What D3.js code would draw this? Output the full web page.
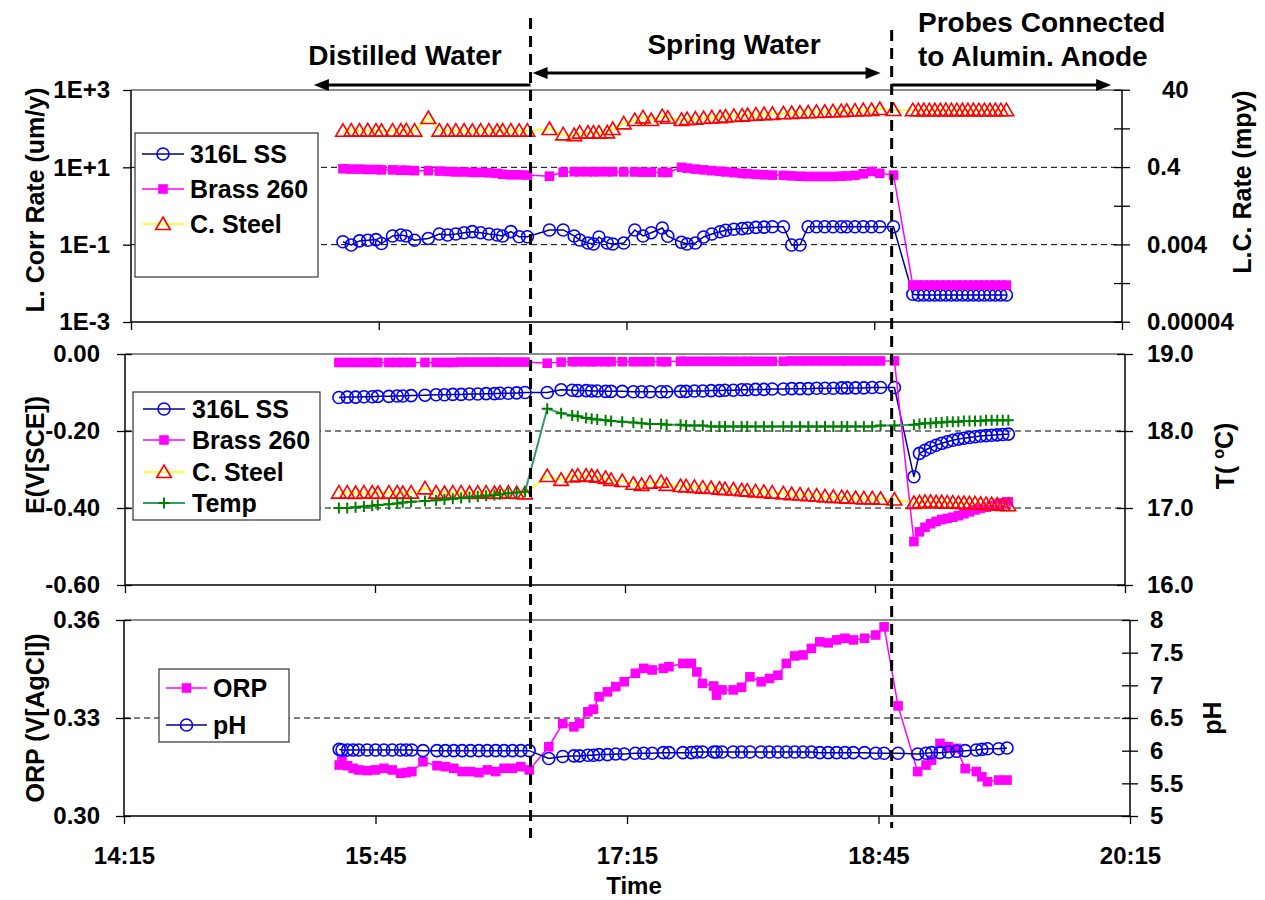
<!DOCTYPE html>
<html><head><meta charset="utf-8">
<script src="https://cdn.jsdelivr.net/npm/d3@7"></script>
<style>
body{margin:0;background:#fff}
svg{display:block}
text{font-family:"Liberation Sans",Arial,sans-serif;font-weight:bold;fill:#000}
</style>
</head><body>
<svg id="c" width="1265" height="900"></svg>
<script>
// ---------------- DATA ----------------
const timeTicks = ["14:15","15:45","17:15","18:45","20:15"];
const rateTicksLeft = [1e-3, 1e-1, 1e1, 1e3];
const rateLabelsLeft = ["1E-3","1E-1","1E+1","1E+3"];
const rateTicksRight = [0.00004, 0.0004, 0.004, 0.04, 0.4, 4, 40];
const rateLabelsRight = ["0.00004","","0.004","","0.4","","40"];
const eTicks = [-0.6, -0.4, -0.2, 0];
const eLabels = ["-0.60","-0.40","-0.20","0.00"];
const tempTicks = [16, 17, 18, 19];
const tempLabels = ["16.0","17.0","18.0","19.0"];
const orpTicks = [0.30, 0.33, 0.36];
const orpLabels = ["0.30","0.33","0.36"];
const phTicks = [5, 5.5, 6, 6.5, 7, 7.5, 8];
const phLabels = ["5","5.5","6","6.5","7","7.5","8"];

const phaseTimes = ["16:41", "18:51"];
const phaseNames = ["Distilled Water", "Spring Water", "Probes Connected", "to Alumin. Anode"];

// probe readings (corrosion rate + potential + temperature)
const probeTimes = [
 "15:32","15:35","15:38","15:41","15:44","15:46","15:50","15:53","15:55","15:58","16:03","16:07","16:10","16:13","16:16","16:19","16:22","16:25","16:28","16:30","16:33","16:36","16:39",
 "16:47","16:52","16:56","16:58","17:01","17:03","17:05","17:08","17:10","17:14","17:18","17:21","17:24","17:28","17:30","17:35","17:37","17:40","17:43","17:46","17:49","17:51","17:54","17:57","17:59","18:02","18:05","18:08","18:12","18:15","18:18","18:21","18:24","18:27","18:30","18:33","18:35","18:38","18:41","18:44","18:47","18:52",
 "18:59","19:01","19:03","19:05","19:07","19:09","19:11","19:13","19:15","19:17","19:19","19:21","19:23","19:25","19:27","19:29","19:31","19:33"];

const ssRate = [
 0.119,0.098,0.125,0.13,0.135,0.107,0.168,0.178,0.168,0.13,0.145,0.189,0.178,0.189,0.204,0.217,0.204,0.189,0.178,0.168,0.217,0.16,0.16,
 0.24,0.24,0.168,0.132,0.11,0.104,0.158,0.11,0.104,0.11,0.24,0.168,0.204,0.27,0.165,0.115,0.104,0.11,0.158,0.189,0.215,0.235,0.25,0.26,0.27,0.28,0.285,0.29,0.29,0.098,0.098,0.29,0.29,0.29,0.29,0.29,0.29,0.29,0.29,0.29,0.29,0.29,
 0.0052,0.005,0.005,0.005,0.005,0.005,0.005,0.005,0.005,0.005,0.005,0.005,0.005,0.005,0.005,0.005,0.005,0.005];
const brassRate = [
 9.2,9.0,9.0,8.8,8.8,8.6,8.6,8.4,8.4,8.2,8.2,8.0,7.8,7.6,7.6,7.4,7.4,7.2,7.0,6.6,6.4,6.4,6.3,
 5.9,7.5,7.7,7.7,7.7,7.7,7.7,7.7,7.7,7.6,7.6,7.5,7.5,7.4,7.4,10.0,9.5,9.0,8.6,8.2,7.9,7.6,7.3,7.0,6.8,6.6,6.4,6.3,6.2,6.0,5.9,5.8,5.8,5.8,5.8,5.9,6.0,6.2,6.8,7.8,7.0,6.3,
 0.009,0.009,0.009,0.009,0.009,0.009,0.009,0.009,0.009,0.009,0.009,0.009,0.009,0.009,0.009,0.009,0.009,0.009];
const steelRate = [
 88,89,89,90,89,88,89,89,90,89,189,89,88,89,89,88,89,89,88,89,89,88,89,
 98,71,68,79,79,79,79,80,98,137,167,196,167,212,192,168,176,181,188,195,199,206,213,217,226,230,238,242,250,254,261,265,271,274,281,284,291,294,301,304,323,304,
 300,300,301,300,299,300,301,300,300,299,300,301,300,300,299,300,300,300];
const ssE = [
 -0.113,-0.112,-0.112,-0.111,-0.111,-0.110,-0.110,-0.109,-0.109,-0.108,-0.107,-0.106,-0.106,-0.105,-0.105,-0.104,-0.104,-0.103,-0.103,-0.102,-0.102,-0.101,-0.100,
 -0.100,-0.093,-0.094,-0.095,-0.095,-0.096,-0.096,-0.097,-0.097,-0.097,-0.098,-0.098,-0.098,-0.098,-0.098,-0.097,-0.097,-0.096,-0.096,-0.095,-0.095,-0.094,-0.094,-0.093,-0.093,-0.092,-0.092,-0.091,-0.091,-0.090,-0.090,-0.090,-0.089,-0.089,-0.089,-0.088,-0.088,-0.088,-0.088,-0.087,-0.087,-0.087,
 -0.319,-0.258,-0.250,-0.243,-0.237,-0.232,-0.228,-0.224,-0.221,-0.219,-0.217,-0.215,-0.213,-0.212,-0.211,-0.210,-0.209,-0.208];
const brassE = [
 -0.022,-0.022,-0.022,-0.022,-0.022,-0.022,-0.022,-0.022,-0.022,-0.022,-0.022,-0.022,-0.022,-0.022,-0.021,-0.021,-0.021,-0.021,-0.021,-0.021,-0.021,-0.021,-0.021,
 -0.024,-0.021,-0.020,-0.020,-0.020,-0.020,-0.020,-0.020,-0.020,-0.020,-0.020,-0.020,-0.020,-0.020,-0.020,-0.019,-0.019,-0.019,-0.019,-0.019,-0.019,-0.019,-0.019,-0.019,-0.019,-0.019,-0.019,-0.019,-0.019,-0.018,-0.018,-0.018,-0.018,-0.018,-0.018,-0.018,-0.018,-0.018,-0.018,-0.018,-0.018,-0.018,
 -0.487,-0.462,-0.450,-0.441,-0.435,-0.430,-0.427,-0.424,-0.420,-0.415,-0.410,-0.405,-0.401,-0.398,-0.394,-0.390,-0.387,-0.384];
const steelE = [
 -0.360,-0.360,-0.361,-0.360,-0.360,-0.361,-0.360,-0.360,-0.361,-0.360,-0.349,-0.360,-0.361,-0.360,-0.360,-0.361,-0.360,-0.360,-0.361,-0.360,-0.360,-0.361,-0.362,
 -0.317,-0.327,-0.318,-0.316,-0.316,-0.317,-0.319,-0.322,-0.327,-0.330,-0.337,-0.340,-0.334,-0.332,-0.340,-0.343,-0.344,-0.345,-0.347,-0.348,-0.350,-0.351,-0.352,-0.354,-0.355,-0.357,-0.358,-0.360,-0.362,-0.364,-0.365,-0.367,-0.368,-0.370,-0.371,-0.372,-0.373,-0.374,-0.375,-0.375,-0.376,-0.378,
 -0.387,-0.385,-0.384,-0.384,-0.385,-0.385,-0.386,-0.386,-0.387,-0.387,-0.388,-0.388,-0.389,-0.390,-0.390,-0.391,-0.392,-0.393];
const tempC = [
 17.00,17.00,17.01,17.02,17.03,17.04,17.05,17.06,17.07,17.08,17.09,17.10,17.11,17.12,17.13,17.14,17.15,17.16,17.17,17.18,17.19,17.20,17.21,
 18.29,18.23,18.20,18.19,18.17,18.16,18.15,18.14,18.13,18.12,18.11,18.10,18.09,18.09,18.08,18.08,18.07,18.07,18.07,18.06,18.06,18.06,18.06,18.06,18.06,18.06,18.06,18.06,18.06,18.06,18.06,18.06,18.06,18.06,18.06,18.06,18.06,18.06,18.06,18.06,18.07,18.07,
 18.08,18.09,18.10,18.10,18.11,18.11,18.12,18.12,18.12,18.13,18.13,18.13,18.13,18.14,18.14,18.14,18.14,18.14];

// water readings (ORP + pH)
const waterTimes = [
 "15:32","15:33","15:35","15:37","15:39","15:42","15:45","15:48","15:51","15:54","15:56","15:58","16:02","16:07","16:10","16:13","16:16","16:19","16:22","16:25","16:28","16:31","16:34","16:37","16:40",
 "16:47","16:52","16:56","16:58","17:01","17:03","17:05","17:08","17:11","17:14","17:18","17:21","17:24","17:28","17:30","17:35","17:38","17:40","17:42","17:46","17:47","17:49","17:53","17:56","17:59","18:03","18:06","18:09","18:12","18:15","18:18","18:21","18:24","18:27","18:30","18:33","18:36","18:40","18:44","18:47",
 "18:52","18:59","19:02","19:04","19:07","19:10","19:13","19:16","19:20","19:22","19:24","19:28","19:31"];
const orpV = [
 0.3156,0.3171,0.3154,0.3146,0.3141,0.3139,0.3141,0.3146,0.3141,0.3131,0.3133,0.3136,0.3166,0.3154,0.3151,0.3146,0.3136,0.3136,0.3133,0.3141,0.3136,0.3146,0.3146,0.3151,0.3141,
 0.3212,0.3283,0.3273,0.3283,0.3319,0.3327,0.3365,0.3380,0.3396,0.3411,0.3437,0.3452,0.3447,0.3452,0.3457,0.3467,0.3467,0.3441,0.3406,0.3398,0.3370,0.3386,0.3386,0.3394,0.3426,0.3411,0.3421,0.3431,0.3467,0.3490,0.3493,0.3513,0.3533,0.3530,0.3539,0.3544,0.3539,0.3544,0.3554,0.3579,
 0.3337,0.3136,0.3156,0.3171,0.3222,0.3212,0.3207,0.3145,0.3136,0.3120,0.3105,0.3110,0.3110];
const phV = [
 6.02,6.01,6.01,6.01,6.01,6.01,6.01,6.01,6.01,6.01,6.01,6.01,6.00,6.00,6.00,6.00,6.00,6.00,6.00,6.00,6.00,6.00,6.00,6.00,6.00,
 5.88,5.91,5.92,5.92,5.93,5.93,5.94,5.94,5.95,5.95,5.96,5.96,5.96,5.97,5.97,5.97,5.97,5.98,5.98,5.98,5.98,5.98,5.98,5.98,5.98,5.98,5.98,5.98,5.98,5.98,5.98,5.98,5.97,5.97,5.97,5.97,5.97,5.97,5.96,5.96,
 5.96,5.95,5.96,5.97,5.97,5.98,5.99,6.00,6.01,6.02,6.03,6.03,6.04];

// ---------------- DRAWING ----------------
const svg = d3.select("#c");
const T = d3.timeParse("%H:%M");
const dom = [T("14:15"), T("20:15")];

const P = {
  top: {x0:131, x1:1122, y0:90,  y1:322},
  mid: {x0:125, x1:1125, y0:354, y1:585},
  bot: {x0:124, x1:1130, y0:620, y1:816}
};
const xTop = d3.scaleTime().domain(dom).range([P.top.x0, P.top.x1]);
const xMid = d3.scaleTime().domain(dom).range([P.mid.x0, P.mid.x1]);
const xBot = d3.scaleTime().domain(dom).range([P.bot.x0, P.bot.x1]);

const yRate = d3.scaleLog().domain([1e-3, 1e3]).range([P.top.y1, P.top.y0]);
const yMpy  = d3.scaleLog().domain([1e-3/25.4, 1e3/25.4]).range([P.top.y1, P.top.y0]);
const yE    = d3.scaleLinear().domain([-0.6, 0]).range([P.mid.y1, P.mid.y0]);
const yT    = d3.scaleLinear().domain([16, 19]).range([P.mid.y1, P.mid.y0]);
const yOrp  = d3.scaleLinear().domain([0.30, 0.36]).range([P.bot.y1, P.bot.y0]);
const yPh   = d3.scaleLinear().domain([5, 8]).range([P.bot.y1, P.bot.y0]);

const FS = 24;

function frame(p, x, yL, yR, o) {
  const g = svg.append("g");
  o.grid.forEach(v => {
    g.append("line").attr("x1", p.x0).attr("x2", p.x1)
      .attr("y1", yL(v)).attr("y2", yL(v))
      .attr("stroke", "#000").attr("stroke-width", 1).attr("stroke-dasharray", "6,4");
  });
  g.append("line").attr("x1", p.x0).attr("x2", p.x1).attr("y1", p.y0).attr("y2", p.y0)
    .attr("stroke", "#8c8c8c").attr("stroke-width", 2);
  const xa = g.append("g").attr("transform", `translate(0,${p.y1})`)
    .call(d3.axisBottom(x).tickValues(timeTicks.map(T)).tickSize(8).tickSizeOuter(0)
      .tickFormat(o.xlabels ? d3.timeFormat("%H:%M") : () => ""));
  xa.select(".domain").remove();
  xa.selectAll(".tick line").attr("stroke", "#000").attr("stroke-width", 1.3);
  xa.selectAll(".tick text").attr("font-size", FS).attr("y", 40).attr("dy", "0.35em")
    .style("font-family", '"Liberation Sans",Arial,sans-serif').style("font-weight", "bold");
  g.append("line").attr("x1", p.x0).attr("x2", p.x1).attr("y1", p.y1).attr("y2", p.y1)
    .attr("stroke", "#000").attr("stroke-width", 1.5);
  const la = g.append("g").attr("transform", `translate(${p.x0},0)`)
    .call(d3.axisLeft(yL).tickValues(o.lt).tickSizeOuter(0)
      .tickFormat((d, i) => o.ll[i]));
  la.select(".domain").remove();
  la.selectAll(".tick line").attr("x1", o.lCross ? 7 : 0).attr("x2", -8)
    .attr("stroke", "#000").attr("stroke-width", 1.3);
  la.selectAll(".tick text").attr("x", -o.lOff).attr("font-size", FS)
    .style("font-family", '"Liberation Sans",Arial,sans-serif').style("font-weight", "bold");
  g.append("line").attr("x1", p.x0).attr("x2", p.x0).attr("y1", p.y0).attr("y2", p.y1)
    .attr("stroke", "#000").attr("stroke-width", 1.5);
  const ra = g.append("g").attr("transform", `translate(${p.x1},0)`)
    .call(d3.axisRight(yR).tickValues(o.rt).tickSizeOuter(0)
      .tickFormat((d, i) => o.rl[i]));
  ra.select(".domain").remove();
  ra.selectAll(".tick line").attr("x1", -8).attr("x2", 8)
    .attr("stroke", "#000").attr("stroke-width", 1.3);
  ra.selectAll(".tick text").attr("x", d => o.rOff + (o.rShift ? o.rShift(d) : 0)).attr("font-size", FS)
    .style("font-family", '"Liberation Sans",Arial,sans-serif').style("font-weight", "bold");
  g.append("line").attr("x1", p.x1).attr("x2", p.x1).attr("y1", p.y0).attr("y2", p.y1)
    .attr("stroke", "#000").attr("stroke-width", 1.5);
}

frame(P.top, xTop, yRate, yMpy, {grid:[1e1, 1e-1], lt:rateTicksLeft, ll:rateLabelsLeft, lOff:21, lCross:false,
  rt:rateTicksRight, rl:rateLabelsRight, rOff:25, rShift: d => d === 40 ? 15 : 0, xlabels:false});
frame(P.mid, xMid, yE, yT, {grid:[-0.2, -0.4], lt:eTicks, ll:eLabels, lOff:25, lCross:true,
  rt:tempTicks, rl:tempLabels, rOff:22, xlabels:false});
frame(P.bot, xBot, yOrp, yPh, {grid:[0.33], lt:orpTicks, ll:orpLabels, lOff:24, lCross:true,
  rt:phTicks, rl:phLabels, rOff:20, xlabels:true});

function shape(type) {
  if (type === "circle") return "M-6,0a6,6 0 1,0 12,0a6,6 0 1,0 -12,0";
  if (type === "square") return "M-4.8,-4.8H4.8V4.8H-4.8Z";
  if (type === "triangle") return "M0,-7L7.3,5.5L-7.3,5.5Z";
  if (type === "plus") return "M-5.5,0H5.5M0,-5.5V5.5";
}
const ST = {
  ss:    {line:"#000080", lw:1.5, m:"circle",   stroke:"#0000ff", fill:"none", sw:1.6},
  brass: {line:"#ff00ff", lw:1.5, m:"square",   stroke:"none",    fill:"#ff00ff", sw:0},
  steel: {line:"#ffff00", lw:1.5, m:"triangle", stroke:"#ff0000", fill:"none", sw:1.6},
  temp:  {line:"#339966", lw:2,   m:"plus",     stroke:"#008000", fill:"none", sw:2},
  orp:   {line:"#ff00ff", lw:1.5, m:"square",   stroke:"none",    fill:"#ff00ff", sw:0},
  ph:    {line:"#000080", lw:1.5, m:"circle",   stroke:"#0000ff", fill:"none", sw:1.6}
};
function series(x, y, times, vals, s) {
  const g = svg.append("g");
  const pts = times.map((t, i) => [x(T(t)), y(vals[i])]);
  g.append("path").attr("d", d3.line()(pts)).attr("fill", "none")
    .attr("stroke", s.line).attr("stroke-width", s.lw);
  g.selectAll("path.m").data(pts).join("path").attr("class", "m")
    .attr("transform", d => `translate(${d[0]},${d[1]})`)
    .attr("d", shape(s.m)).attr("fill", s.fill).attr("stroke", s.stroke).attr("stroke-width", s.sw);
}
series(xTop, yRate, probeTimes, ssRate, ST.ss);
series(xTop, yRate, probeTimes, brassRate, ST.brass);
series(xTop, yRate, probeTimes, steelRate, ST.steel);
series(xMid, yE, probeTimes, ssE, ST.ss);
series(xMid, yE, probeTimes, brassE, ST.brass);
series(xMid, yE, probeTimes, steelE, ST.steel);
series(xMid, yT, probeTimes, tempC, ST.temp);
series(xBot, yOrp, waterTimes, orpV, ST.orp);
series(xBot, yPh, waterTimes, phV, ST.ph);

function legend(x, y, w, h, items, ys, lx0, lx1, tx) {
  const g = svg.append("g");
  g.append("rect").attr("x", x).attr("y", y).attr("width", w).attr("height", h)
    .attr("fill", "#fff").attr("stroke", "#333").attr("stroke-width", 1.2);
  items.forEach((it, i) => {
    const s = ST[it.k];
    g.append("line").attr("x1", lx0).attr("x2", lx1).attr("y1", ys[i]).attr("y2", ys[i])
      .attr("stroke", s.line).attr("stroke-width", s.lw);
    g.append("path").attr("transform", `translate(${(lx0 + lx1) / 2},${ys[i]})`)
      .attr("d", shape(s.m)).attr("fill", s.fill).attr("stroke", s.stroke).attr("stroke-width", s.sw);
    g.append("text").attr("x", tx).attr("y", ys[i]).attr("dy", "0.36em")
      .attr("font-size", 25).text(it.name);
  });
}
legend(135, 133, 183, 144, [{k:"ss",name:"316L SS"},{k:"brass",name:"Brass 260"},{k:"steel",name:"C. Steel"}],
  [154, 189, 224], 142, 184, 190);
legend(133, 392, 187, 128, [{k:"ss",name:"316L SS"},{k:"brass",name:"Brass 260"},{k:"steel",name:"C. Steel"},{k:"temp",name:"Temp"}],
  [409, 440, 472, 503], 143, 185, 192);
legend(159, 669, 130, 73, [{k:"orp",name:"ORP"},{k:"ph",name:"pH"}],
  [688, 725], 166, 207, 213);

function vtitle(x, y, txt, size) {
  return svg.append("text").attr("transform", `translate(${x},${y}) rotate(-90)`)
    .attr("text-anchor", "middle").attr("dy", "0.35em").attr("font-size", size || 25).text(txt);
}
vtitle(35, 200, "L. Corr Rate (um/y)");
vtitle(35, 455, "E(V[SCE])");
vtitle(35, 718, "ORP (V[AgCl])");
vtitle(1242, 182, "L.C. Rate (mpy)");
const tt = svg.append("text").attr("transform", `translate(1225,456) rotate(-90)`)
  .attr("text-anchor", "middle").attr("dy", "0.35em").attr("font-size", 25);
tt.append("tspan").text("T( ");
tt.append("tspan").attr("font-size", 16).attr("dy", "-0.6em").text("o");
tt.append("tspan").attr("dy", "0.35em").text("C)");
vtitle(1212, 718, "pH");
svg.append("text").attr("x", 634).attr("y", 894).attr("text-anchor", "middle")
  .attr("font-size", 24).text("Time");

const xp = phaseTimes.map(t => xMid(T(t)));
svg.append("line").attr("x1", xp[0]).attr("x2", xp[0]).attr("y1", 18).attr("y2", 838)
  .attr("stroke", "#000").attr("stroke-width", 3).attr("stroke-dasharray", "11,7");
svg.append("line").attr("x1", xp[1]).attr("x2", xp[1]).attr("y1", 30).attr("y2", 828)
  .attr("stroke", "#000").attr("stroke-width", 3).attr("stroke-dasharray", "11,7");

function arrow(xa, xb, y, headA, headB) {
  const g = svg.append("g");
  const L = 15, W = 6;
  const a = headA ? xa + (xb > xa ? L - 2 : -L + 2) : xa;
  const b = headB ? xb + (xb > xa ? -L + 2 : L - 2) : xb;
  g.append("line").attr("x1", a).attr("x2", b).attr("y1", y).attr("y2", y)
    .attr("stroke", "#000").attr("stroke-width", 3);
  const head = (tip, dir) => g.append("path")
    .attr("d", `M${tip},${y}L${tip - dir * L},${y - W}L${tip - dir * L},${y + W}Z`).attr("fill", "#000");
  if (headA) head(xa, xb > xa ? -1 : 1);
  if (headB) head(xb, xb > xa ? 1 : -1);
}
arrow(xp[0], xMid(T("15:23")), 85, false, true);
arrow(xp[0] + 2, xMid(T("18:47")), 73, true, true);
arrow(xp[1], xMid(T("20:10")), 85, false, true);

svg.append("text").attr("x", 405).attr("y", 65).attr("text-anchor", "middle").attr("font-size", 28).text(phaseNames[0]);
svg.append("text").attr("x", 734).attr("y", 54).attr("text-anchor", "middle").attr("font-size", 28).text(phaseNames[1]);
svg.append("text").attr("x", 918).attr("y", 32).attr("font-size", 28).text(phaseNames[2]);
svg.append("text").attr("x", 918).attr("y", 66).attr("font-size", 28).text(phaseNames[3]);
</script>
</body></html>
